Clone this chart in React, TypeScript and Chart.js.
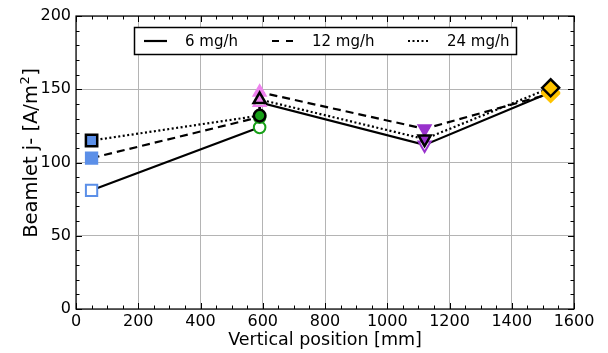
import React, { useEffect, useRef } from 'react';
import { Chart, registerables } from 'chart.js';

Chart.register(...registerables);

// ---- data ----
const positions = [50, 590, 590, 1120, 1525];
const series6 = [81, 124, 141, 112, 148];
const series12 = [103, 131, 148, 123, 147];
const series24 = [115, 132, 143, 116, 151];
const seriesLabels = ['6 mg/h', '12 mg/h', '24 mg/h'];
const markerColors = ['#5b8fe8', '#18a018', '#ee82ee', '#9932cc', '#ffc400'];
const markerStyles = ['rect', 'circle', 'triangle', 'triangle', 'rectRot'];
const markerRotations = [0, 0, 0, 180, 0];
const markerRadii = [8, 5.8, 7, 7, 8.5];
const xTickValues = [0, 200, 400, 600, 800, 1000, 1200, 1400, 1600];
const yTickValues = [0, 50, 100, 150, 200];
const xTitle = 'Vertical position [mm]';
const yTitle = 'Beamlet j- [A/m';

const FONT = "'DejaVu Sans', sans-serif";

function pts(vals: number[]) {
  return vals.map((v, i) => ({ x: positions[i], y: v }));
}

const decorPlugin = {
  id: 'decor',
  afterDatasetsDraw(chart: any) {
    const { ctx, chartArea } = chart;
    const { left, right, top, bottom } = chartArea;
    const xs = chart.scales.x;
    const ys = chart.scales.y;
    ctx.save();
    // frame
    ctx.strokeStyle = '#000';
    ctx.lineWidth = 1.2;
    ctx.strokeRect(left, top, right - left, bottom - top);
    // inward ticks
    ctx.lineWidth = 1;
    ctx.beginPath();
    for (let v = 0; v <= 1600; v += 50) {
      const px = Math.round(xs.getPixelForValue(v)) + 0.5;
      const len = v % 200 === 0 ? 6 : 3.5;
      ctx.moveTo(px, bottom);
      ctx.lineTo(px, bottom - len);
      ctx.moveTo(px, top);
      ctx.lineTo(px, top + len);
    }
    for (let v = 0; v <= 200; v += 10) {
      const py = Math.round(ys.getPixelForValue(v)) + 0.5;
      const len = v % 50 === 0 ? 6 : 3.5;
      ctx.moveTo(left, py);
      ctx.lineTo(left + len, py);
      ctx.moveTo(right, py);
      ctx.lineTo(right - len, py);
    }
    ctx.stroke();

    // legend
    const bx = 134.5, by = 27.5, bw = 382, bh = 27;
    ctx.fillStyle = '#fff';
    ctx.fillRect(bx, by, bw, bh);
    ctx.strokeStyle = '#000';
    ctx.lineWidth = 1.5;
    ctx.strokeRect(bx, by, bw, bh);
    const ly = by + bh / 2;
    const samples = [
      { x0: 144, x1: 167, dash: [] as number[], tx: 185 },
      { x0: 272, x1: 294, dash: [7, 7], tx: 312 },
      { x0: 408, x1: 430, dash: [2, 2.5], tx: 447 },
    ];
    ctx.font = `15px ${FONT}`;
    ctx.textBaseline = 'middle';
    ctx.textAlign = 'left';
    samples.forEach((s, i) => {
      ctx.beginPath();
      ctx.setLineDash(s.dash);
      ctx.lineWidth = 2.2;
      ctx.strokeStyle = '#000';
      ctx.moveTo(s.x0, ly);
      ctx.lineTo(s.x1, ly);
      ctx.stroke();
      ctx.setLineDash([]);
      ctx.fillStyle = '#000';
      ctx.fillText(seriesLabels[i], s.tx, ly + 1);
    });

    // axis titles
    ctx.fillStyle = '#000';
    ctx.font = `17.5px ${FONT}`;
    ctx.textAlign = 'center';
    ctx.textBaseline = 'alphabetic';
    ctx.fillText(xTitle, (left + right) / 2, 345);

    const big = 19.5;
    const small = 13;
    ctx.translate(37, 153);
    ctx.rotate(-Math.PI / 2);
    ctx.font = `${big}px ${FONT}`;
    const w1 = ctx.measureText(yTitle).width;
    ctx.font = `${small}px ${FONT}`;
    const w2 = ctx.measureText('2').width;
    ctx.font = `${big}px ${FONT}`;
    const w3 = ctx.measureText(']').width;
    const total = w1 + w2 + w3 + 1;
    let x = -total / 2;
    ctx.textAlign = 'left';
    ctx.fillText(yTitle, x, 0);
    x += w1 + 0.5;
    ctx.font = `${small}px ${FONT}`;
    ctx.fillText('2', x, -8);
    x += w2 + 0.5;
    ctx.font = `${big}px ${FONT}`;
    ctx.fillText(']', x, 0);
    ctx.restore();
  },
};

export default function App() {
  const ref = useRef<HTMLCanvasElement>(null);
  useEffect(() => {
    document.body.style.margin = '0';
    const canvas = ref.current!;
    const lineDs = (vals: number[], dash: number[]) => ({
      type: 'line' as const,
      data: pts(vals),
      borderColor: '#000',
      borderWidth: 2.2,
      borderDash: dash,
      pointRadius: 0,
      fill: false,
      tension: 0,
      order: 10,
    });
    const markDs = (vals: number[], kind: number, order: number) => ({
      type: 'scatter' as const,
      data: pts(vals),
      showLine: false,
      pointStyle: markerStyles,
      pointRotation: markerRotations,
      pointRadius: markerRadii,
      pointBorderWidth: kind === 2 ? 2.5 : 2,
      pointBackgroundColor: kind === 0 ? markerColors.map(() => '#fff') : markerColors,
      pointBorderColor: kind === 2 ? markerColors.map(() => '#000') : markerColors,
      order,
    });
    const chart = new Chart(canvas, {
      type: 'scatter',
      data: {
        datasets: [
          lineDs(series6, []),
          lineDs(series12, [8, 5]),
          lineDs(series24, [2, 2.5]),
          markDs(series6, 0, 3),
          markDs(series12, 1, 2),
          markDs(series24, 2, 1),
        ] as any,
      },
      options: {
        animation: false,
        responsive: false,
        devicePixelRatio: 1,
        layout: { padding: { top: 16, right: 34, left: 0, bottom: 0 } },
        plugins: { legend: { display: false }, tooltip: { enabled: false } },
        scales: {
          x: {
            type: 'linear',
            min: 0,
            max: 1600,
            afterBuildTicks: (s: any) => {
              s.ticks = xTickValues.map((v) => ({ value: v }));
            },
            afterFit: (s: any) => {
              s.height = 44;
            },
            ticks: {
              color: '#000',
              font: { family: FONT, size: 16 },
              padding: 3,
              maxRotation: 0,
              callback: (v: any) => String(v),
            },
            grid: { color: '#b4b4b4', lineWidth: 1, drawTicks: false },
            border: { display: false },
          },
          y: {
            type: 'linear',
            min: 0,
            max: 200,
            afterBuildTicks: (s: any) => {
              s.ticks = yTickValues.map((v) => ({ value: v }));
            },
            afterFit: (s: any) => {
              s.width = 76;
            },
            ticks: {
              color: '#000',
              font: { family: FONT, size: 16 },
              padding: 5,
              callback: (v: any) => String(v),
            },
            grid: { color: '#b4b4b4', lineWidth: 1, drawTicks: false },
            border: { display: false },
          },
        },
      },
      plugins: [decorPlugin],
    });
    return () => chart.destroy();
  }, []);
  return <canvas ref={ref} width={608} height={353} style={{ display: 'block' }} />;
}
